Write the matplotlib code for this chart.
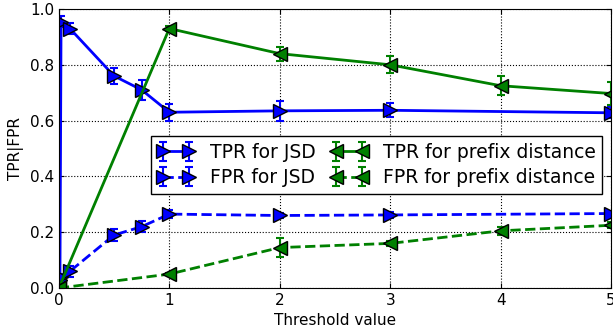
import matplotlib
matplotlib.use("Agg")
import matplotlib.pyplot as plt

plt.rcParams["font.family"] = "DejaVu Sans"
plt.rcParams["xtick.direction"] = "in"
plt.rcParams["ytick.direction"] = "in"
plt.rcParams["xtick.top"] = True
plt.rcParams["ytick.right"] = True

# --- data ---
JSD_X = [0.01, 0.02, 0.1, 0.5, 0.75, 1, 2, 3, 5]
JSD_TPR = [0.03, 0.955, 0.93, 0.76, 0.71, 0.63, 0.635, 0.637, 0.628]
JSD_TPR_ERR = [0.0, 0.02, 0.02, 0.03, 0.035, 0.03, 0.035, 0.025, 0.02]
JSD_FPR = [0.03, 0.04, 0.06, 0.19, 0.22, 0.265, 0.26, 0.262, 0.267]
JSD_FPR_ERR = [0.0, 0.01, 0.02, 0.02, 0.02, 0.015, 0.01, 0.01, 0.005]

PFX_X = [0, 1, 2, 3, 4, 5]
PFX_TPR = [0.0, 0.93, 0.84, 0.80, 0.725, 0.697]
PFX_TPR_ERR = [0.0, 0.01, 0.025, 0.03, 0.035, 0.04]
PFX_FPR = [0.0, 0.05, 0.145, 0.16, 0.205, 0.225]
PFX_FPR_ERR = [0.0, 0.005, 0.035, 0.01, 0.015, 0.01]

fig, ax = plt.subplots(figsize=(6.13, 3.33), dpi=100)
fig.subplots_adjust(left=0.096, right=0.997, top=0.973, bottom=0.135)

common = dict(markersize=10, markeredgecolor="black", linewidth=2,
              capsize=3, elinewidth=1.5, capthick=1.5)
ax.errorbar(JSD_X, JSD_TPR, yerr=JSD_TPR_ERR, color="blue", marker=">",
            linestyle="-", label="TPR for JSD", **common)
ax.errorbar(JSD_X, JSD_FPR, yerr=JSD_FPR_ERR, color="blue", marker=">",
            linestyle="--", label="FPR for JSD", **common)
ax.errorbar(PFX_X, PFX_TPR, yerr=PFX_TPR_ERR, color="green", marker="<",
            linestyle="-", label="TPR for prefix distance", **common)
ax.errorbar(PFX_X, PFX_FPR, yerr=PFX_FPR_ERR, color="green", marker="<",
            linestyle="--", label="FPR for prefix distance", **common)

ax.set_xlim(0, 5)
ax.set_ylim(0, 1.0)
ax.set_yticks([0, 0.2, 0.4, 0.6, 0.8, 1.0])
ax.set_yticklabels(["0.0", "0.2", "0.4", "0.6", "0.8", "1.0"])
ax.tick_params(labelsize=11)
ax.grid(True, color="black", linestyle=":", linewidth=0.8)
ax.set_xlabel("Threshold value", fontsize=11)
ax.set_ylabel("TPR|FPR", fontsize=11)

leg = ax.legend(loc="center", bbox_to_anchor=(0.575, 0.441), ncol=2,
                numpoints=2, fontsize=13.5, fancybox=False, framealpha=1,
                edgecolor="black", handlelength=2, columnspacing=0.8,
                handletextpad=0.8, borderpad=0.35, labelspacing=0.35)
leg.get_frame().set_linewidth(1)

plt.savefig("out.png", dpi=100)
